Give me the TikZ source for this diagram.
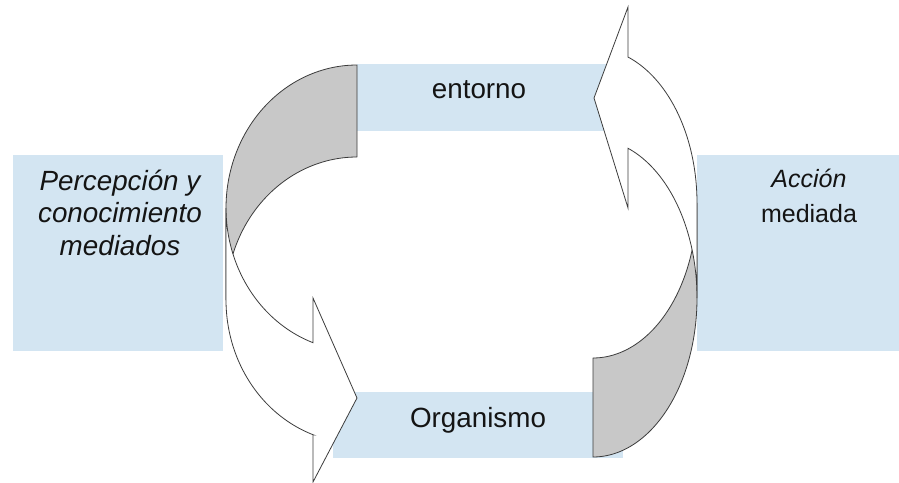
\documentclass[tikz,border=0pt]{standalone}
\usepackage{fontspec}
\setmainfont{Liberation Sans}
\definecolor{boxblue}{RGB}{211,229,242}
\definecolor{backgray}{RGB}{200,200,200}
\definecolor{edgegray}{RGB}{60,60,60}
\definecolor{txt}{RGB}{20,20,20}
\tikzset{
  bluebox/.style={fill=boxblue, draw=none},
  backface/.style={fill=backgray, draw=edgegray, line width=0.8pt, line join=round},
  frontface/.style={fill=white, draw=edgegray, line width=0.8pt, line join=miter},
  bigtext/.style={anchor=base, inner sep=0pt, text=txt, font=\fontsize{27.8}{33}\selectfont},
  smalltext/.style={anchor=base, inner sep=0pt, text=txt, font=\fontsize{25}{30}\selectfont}
}
\begin{document}
\begin{tikzpicture}[x=1pt, y=-1pt]
\useasboundingbox (0,0) rectangle (899,482);
\fill[white] (0,0) rectangle (899,482);
% blue boxes
\fill[bluebox] (13,155) rectangle (223,351);
\fill[bluebox] (697,155) rectangle (899,351);
\fill[bluebox] (357,64) rectangle (610,131);
\fill[bluebox] (333,392) rectangle (623,458);
% left curved arrow: back (gray)
\draw[backface] (357,65)
  -- plot[domain=90:180, samples=60] ({357+131*cos(\x)},{208-143*sin(\x)})
  -- (226,300)
  -- plot[domain=180:90, samples=60] ({357+131*cos(\x)},{300-143*sin(\x)})
  -- cycle;
% left curved arrow: front (white)
\draw[frontface] (226,208)
  -- plot[domain=180:250.4, samples=60] ({357+131*cos(\x)},{208-143*sin(\x)})
  -- (313,298) -- (357,398) -- (313,482) -- (313,434.7)
  -- plot[domain=250.4:180, samples=60] ({357+131*cos(\x)},{300-143*sin(\x)})
  -- cycle;
% right curved arrow: back (gray)
\draw[backface] (593,358) -- (593,457)
  -- plot[domain=270:360, samples=60] ({593+104*cos(\x)},{298-159*sin(\x)})
  -- (697,203)
  -- plot[domain=360:270, samples=60] ({593+104*cos(\x)},{203-155*sin(\x)})
  -- cycle;
% right curved arrow: front (white)
\draw[frontface] (697,298)
  -- plot[domain=0:70.33, samples=60] ({593+104*cos(\x)},{298-159*sin(\x)})
  -- (628,208) -- (594,98) -- (628,7) -- (628,57)
  -- plot[domain=70.33:0, samples=60] ({593+104*cos(\x)},{203-155*sin(\x)})
  -- cycle;
% texts
\node[bigtext] (entorno) at (479,98) {entorno};
\node[bigtext] (organismo) at (478,427) {Organismo};
\node[bigtext] (perc1) at (120,190) {\itshape Percepción y};
\node[bigtext] (perc2) at (120,222) {\itshape conocimiento};
\node[bigtext] (perc3) at (120,255) {\itshape mediados};
\node[smalltext] (acc1) at (809,187) {\itshape Acción};
\node[smalltext] (acc2) at (809,222) {mediada};
\end{tikzpicture}
\end{document}
